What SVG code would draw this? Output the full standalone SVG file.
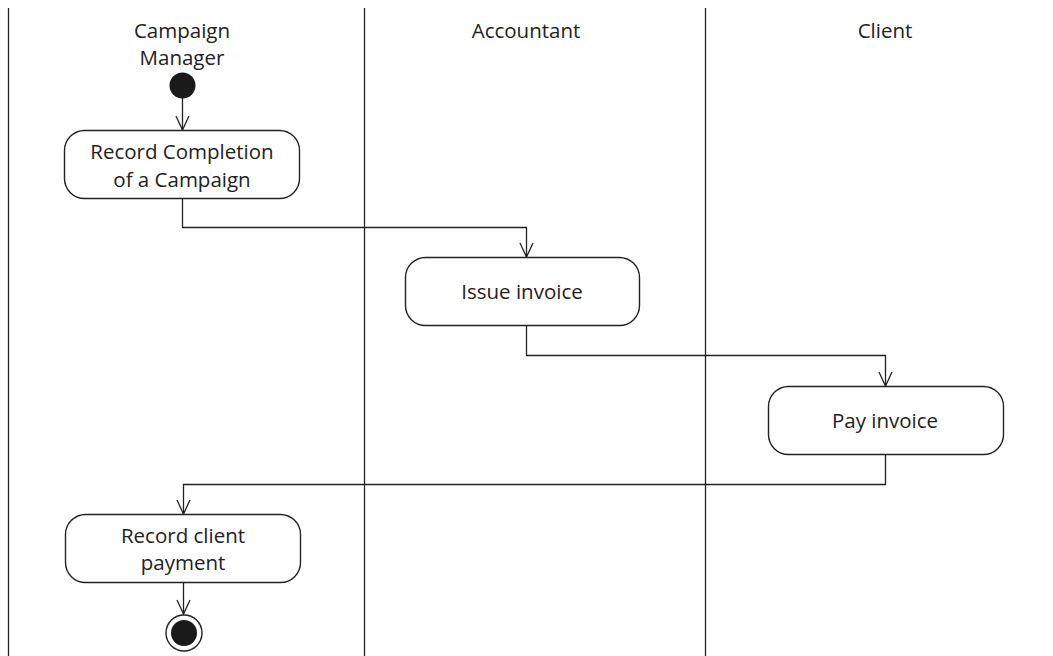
<svg xmlns="http://www.w3.org/2000/svg" width="1053" height="656" viewBox="0 0 1053 656">
  <style>
    .lane { stroke: #222; stroke-width: 1.3; fill: none; }
    .act { fill: #fff; stroke: #222; stroke-width: 1.4; }
    .flow { fill: none; stroke: #222; stroke-width: 1.3; }
    text { font-family: "Open Sans", "Liberation Sans", sans-serif; font-size: 20.5px; fill: #222; text-anchor: middle; }
  </style>
  <defs>
    <marker id="open" viewBox="0 0 16 16" refX="15" refY="8" markerWidth="16" markerHeight="16" markerUnits="userSpaceOnUse" orient="auto">
      <path d="M1,1.5 L15,8 L1,14.5" fill="none" stroke="#222" stroke-width="1.3"/>
    </marker>
  </defs>

  <!-- swimlane dividers -->
  <g id="lanes">
    <line class="lane" x1="8.5" y1="8" x2="8.5" y2="656"/>
    <line class="lane" x1="364.5" y1="8" x2="364.5" y2="656"/>
    <line class="lane" x1="705.5" y1="8" x2="705.5" y2="656"/>
    <text x="182" y="38">Campaign</text>
    <text x="182" y="65">Manager</text>
    <text x="526" y="38">Accountant</text>
    <text x="885" y="38">Client</text>
  </g>

  <!-- control flows -->
  <g id="connectors">
    <path class="flow" d="M182.5,98 V130" marker-end="url(#open)"/>
    <path class="flow" d="M182.5,198 V227.5 H526.5 V257" marker-end="url(#open)"/>
    <path class="flow" d="M526.5,325 V355.5 H885.5 V386" marker-end="url(#open)"/>
    <path class="flow" d="M885.5,454 V484.5 H183.5 V514" marker-end="url(#open)"/>
    <path class="flow" d="M183.5,582 V614" marker-end="url(#open)"/>
  </g>

  <g id="start">
    <circle cx="182.5" cy="85.5" r="13" fill="#1a1a1a"/>
  </g>

  <g id="recordCompletion">
    <rect class="act" x="64.5" y="130.5" width="235" height="68" rx="20"/>
    <text x="182" y="159">Record Completion</text>
    <text x="182" y="187">of a Campaign</text>
  </g>

  <g id="issueInvoice">
    <rect class="act" x="405.5" y="257.5" width="234" height="68" rx="20"/>
    <text x="522" y="299">Issue invoice</text>
  </g>

  <g id="payInvoice">
    <rect class="act" x="768.5" y="386.5" width="235" height="68" rx="20"/>
    <text x="885" y="428">Pay invoice</text>
  </g>

  <g id="recordPayment">
    <rect class="act" x="65.5" y="514.5" width="235" height="68" rx="20"/>
    <text x="183" y="543">Record client</text>
    <text x="183" y="570">payment</text>
  </g>

  <g id="end">
    <circle cx="184" cy="633" r="18" fill="#fff" stroke="#222" stroke-width="1.4"/>
    <circle cx="184" cy="633" r="13" fill="#1a1a1a"/>
  </g>
</svg>
